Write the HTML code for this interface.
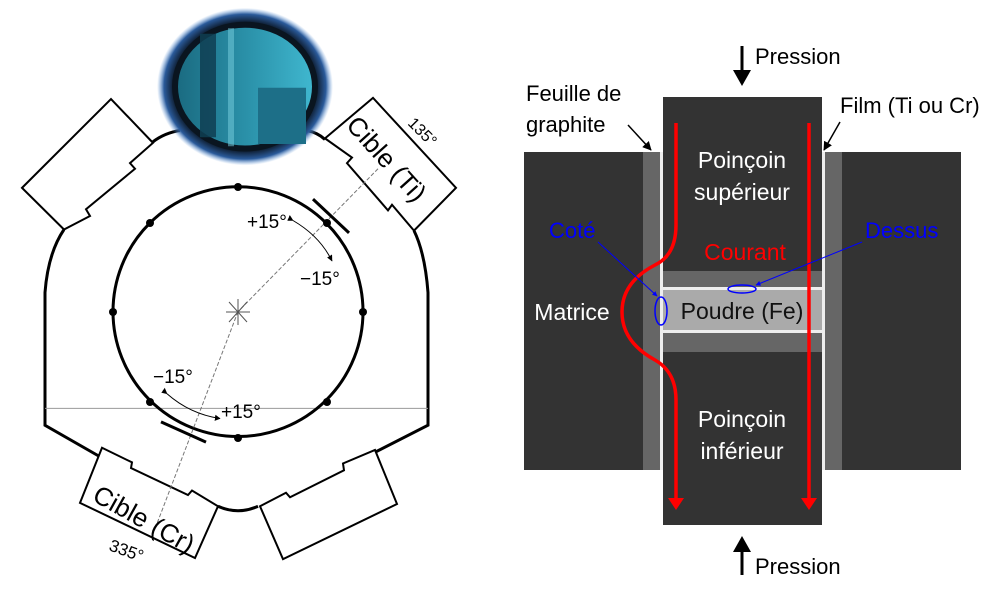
<!DOCTYPE html>
<html><head><meta charset="utf-8"><style>
html,body{margin:0;padding:0;background:#fff;}
svg{display:block;font-family:"Liberation Sans",Arial,sans-serif;}
.ns{vector-effect:non-scaling-stroke;}
</style></head><body>
<svg width="1000" height="589" viewBox="0 0 1000 589" xmlns="http://www.w3.org/2000/svg">
<defs>
<radialGradient id="halo" cx="50%" cy="50%" r="50%">
<stop offset="0.8" stop-color="#0a1420"/><stop offset="0.92" stop-color="#2a5a9a"/><stop offset="1" stop-color="#6aa0e0" stop-opacity="0"/>
</radialGradient>
<linearGradient id="glass" x1="0" y1="0" x2="1" y2="0">
<stop offset="0" stop-color="#1a6a80"/><stop offset="0.5" stop-color="#2a90a8"/><stop offset="1" stop-color="#40b8d0"/>
</linearGradient>
<marker id="ar" viewBox="0 0 10 10" refX="9" refY="5" markerWidth="6" markerHeight="6" orient="auto"><path d="M0,0L10,5L0,10z" fill="#000"/></marker>
<marker id="ab" viewBox="0 0 10 10" refX="9" refY="5" markerWidth="5" markerHeight="5" orient="auto"><path d="M0,0L10,5L0,10z" fill="#00f"/></marker>
</defs>
<!-- LEFT DIAGRAM -->
<g transform="scale(1,1.125)">
<g fill="none" stroke="#000" stroke-width="3">
<path class="ns" d="M64,204 Q48,225 45,260 L45,378 L100,406"/>
<path class="ns" d="M218,450 Q238,458 258,450"/>
<path class="ns" d="M375,402 L428,378 L428,260 Q425,225 414,205"/>
<path class="ns" d="M153,126 Q165,118 180,116"/>
<path class="ns" d="M307,116 Q318,118 325,124"/>
</g>
<line class="ns" x1="45" y1="363" x2="428" y2="363" stroke="#999" stroke-width="1"/>
<g fill="#fff" stroke="#000" stroke-width="2">
<polygon class="ns" points="22,167 111,88 153,127 130,145 135,150 86,186 90,192 64,204"/>
<polygon class="ns" points="325,123 373,87 456,167 414,205 392,182 388,187 347,145 352,140"/>
<polygon class="ns" points="102,398 132,411 131,416 188,440 192,436 218,450 195,496 80,447"/>
<polygon class="ns" points="260,450 286,438 290,442 344,418 343,412 375,400 397,448 283,497"/>
</g>
<ellipse cx="245" cy="77" rx="88" ry="70" fill="url(#halo)"/>
<ellipse class="ns" cx="245" cy="77" rx="70" ry="55" fill="url(#glass)" stroke="#0a1520" stroke-width="6"/>
<rect x="200" y="30" width="16" height="92" fill="#0f3e52" opacity="0.85"/>
<rect x="228" y="25" width="6" height="105" fill="#7ad0e0" opacity="0.5"/>
<rect x="258" y="78" width="48" height="50" fill="#1d6f88"/>
<ellipse class="ns" cx="238" cy="277" rx="125" ry="111" fill="none" stroke="#000" stroke-width="3"/>
<line class="ns" x1="378" y1="150" x2="238" y2="277" stroke="#777" stroke-width="1" stroke-dasharray="4,2"/>
<line class="ns" x1="238" y1="277" x2="155" y2="470" stroke="#777" stroke-width="1" stroke-dasharray="4,2"/>
<line class="ns" x1="313" y1="177" x2="349" y2="207" stroke="#000" stroke-width="3"/>
<line class="ns" x1="161" y1="375" x2="206" y2="393" stroke="#000" stroke-width="3"/>
<path class="ns" d="M293,196 Q320,210 332,232" fill="none" stroke="#000" stroke-width="1" marker-start="url(#ar)" marker-end="url(#ar)"/>
<path class="ns" d="M167,350 Q190,368 220,372" fill="none" stroke="#000" stroke-width="1" marker-start="url(#ar)" marker-end="url(#ar)"/>
</g>
<g fill="#000">
<circle cx="238" cy="187" r="4"/><circle cx="238" cy="438" r="4"/><circle cx="113" cy="312" r="4"/><circle cx="363" cy="312" r="4"/>
<circle cx="150" cy="223" r="4"/><circle cx="327" cy="223" r="4"/><circle cx="150" cy="402" r="4"/><circle cx="327" cy="402" r="4"/>
</g>
<g stroke="#555" stroke-width="1"><line x1="226" y1="312" x2="250" y2="312"/><line x1="238" y1="299" x2="238" y2="325"/><line x1="229" y1="302" x2="247" y2="322"/><line x1="247" y1="302" x2="229" y2="322"/></g>
<g font-size="19" fill="#000">
<text x="247" y="228">+15°</text><text x="300" y="285">−15°</text>
<text x="153" y="383">−15°</text><text x="221" y="418">+15°</text>
</g>
<text x="0" y="0" font-size="26" transform="translate(345,126) rotate(48)">Cible (Ti)</text>
<text x="0" y="0" font-size="26" transform="translate(91,500) rotate(29)">Cible (Cr)</text>
<text x="0" y="0" font-size="16" transform="translate(407,124) rotate(45)">135°</text>
<text x="0" y="0" font-size="17" transform="translate(108,550) rotate(20)">335°</text>
<!-- RIGHT DIAGRAM -->
<rect x="524" y="152" width="437" height="318" fill="#333"/>
<rect x="643" y="152" width="17" height="318" fill="#666"/>
<rect x="825" y="152" width="17" height="318" fill="#666"/>
<rect x="660" y="152" width="3" height="318" fill="#eee"/>
<rect x="822" y="152" width="3" height="318" fill="#eee"/>
<rect x="663" y="97" width="159" height="428" fill="#333"/>
<rect x="663" y="271" width="159" height="16" fill="#666"/>
<rect x="663" y="287" width="159" height="3" fill="#eee"/>
<rect x="663" y="290" width="159" height="40" fill="#aaa"/>
<rect x="663" y="330" width="159" height="3" fill="#eee"/>
<rect x="663" y="333" width="159" height="19" fill="#666"/>
<g stroke="#f00" stroke-width="3.5" fill="none">
<path d="M676,123 L676,225 Q676,255 655,265 Q622,282 622,312 Q622,342 655,360 Q676,372 676,400 L676,500"/>
<line x1="809" y1="123" x2="809" y2="500"/>
</g>
<polygon points="668,498 684,498 676,510" fill="#f00"/>
<polygon points="801,498 817,498 809,510" fill="#f00"/>
<g fill="#fff" font-size="23" text-anchor="middle">
<text x="742" y="168">Poinçoin</text><text x="742" y="200">supérieur</text>
<text x="742" y="427">Poinçoin</text><text x="742" y="459">inférieur</text>
<text x="572" y="320">Matrice</text>
</g>
<text x="745" y="260" font-size="23" fill="#f00" text-anchor="middle">Courant</text>
<text x="742" y="319" font-size="23" fill="#111" text-anchor="middle">Poudre (Fe)</text>
<text x="549" y="238" font-size="22" fill="#00f">Coté</text>
<text x="865" y="238" font-size="22" fill="#00f">Dessus</text>
<ellipse cx="661" cy="311" rx="6" ry="14" fill="none" stroke="#00f" stroke-width="1.5"/>
<ellipse cx="742" cy="289" rx="14" ry="4" fill="none" stroke="#00f" stroke-width="1.5"/>
<line x1="598" y1="242" x2="657" y2="296" stroke="#00f" stroke-width="1" marker-end="url(#ab)"/>
<line x1="862" y1="242" x2="756" y2="285" stroke="#00f" stroke-width="1" marker-end="url(#ab)"/>
<g font-size="22" fill="#000">
<text x="755" y="64">Pression</text>
<text x="755" y="574">Pression</text>
<text x="526" y="101">Feuille de</text><text x="526" y="132">graphite</text>
<text x="840" y="113">Film (Ti ou Cr)</text>
</g>
<line x1="742" y1="46" x2="742" y2="72" stroke="#000" stroke-width="3"/>
<polygon points="733,70 751,70 742,86" fill="#000"/>
<line x1="742" y1="575" x2="742" y2="550" stroke="#000" stroke-width="3"/>
<polygon points="733,552 751,552 742,536" fill="#000"/>
<line x1="628" y1="125" x2="651" y2="150" stroke="#000" stroke-width="1.5" marker-end="url(#ar)"/>
<line x1="840" y1="122" x2="824" y2="150" stroke="#000" stroke-width="1.5" marker-end="url(#ar)"/>
</svg>
</body></html>
